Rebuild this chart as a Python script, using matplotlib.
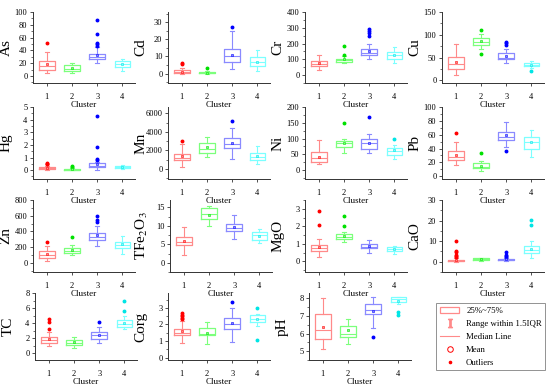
import matplotlib
matplotlib.use("Agg")
import matplotlib.pyplot as plt
from matplotlib.lines import Line2D
from matplotlib.patches import Rectangle
from matplotlib.ticker import AutoMinorLocator

plt.rcParams['font.family'] = ['Liberation Serif', 'DejaVu Serif']
plt.rcParams['mathtext.fontset'] = 'stix'

# === DANE ===
clusters = [1, 2, 3, 4]
names = ['As', 'Cd', 'Cr', 'Cu', 'Hg', 'Mn', 'Ni', 'Pb',
         'Zn', 'TFe$_2$O$_3$', 'MgO', 'CaO', 'TC', 'Corg', 'pH']

# per element: [cluster1, cluster2, cluster3, cluster4]
q1 = {
    'As': [10, 7, 26, 14], 'Cd': [0.4, 0.2, 6.5, 4.5], 'Cr': [55, 85, 125, 105], 'Cu': [24, 78, 46, 31],
    'Hg': [0.1, 0.02, 0.25, 0.18], 'Mn': [950, 1750, 2300, 1000], 'Ni': [27, 72, 68, 49], 'Pb': [23, 12, 52, 40],
    'Zn': [60, 130, 290, 190], 'TFe$_2$O$_3$': [4.8, 11.8, 8.5, 6.3], 'MgO': [0.6, 1.3, 0.75, 0.6],
    'CaO': [0.2, 0.8, 0.6, 4.0], 'TC': [1.4, 1.1, 1.9, 3.5], 'Corg': [1.35, 1.35, 1.7, 2.15], 'pH': [5.7, 5.8, 7.1, 7.8],
}
med = {
    'As': [15, 11, 29, 18], 'Cd': [1.0, 0.5, 10.5, 6.5], 'Cr': [72, 95, 140, 125], 'Cu': [35, 85, 50, 34],
    'Hg': [0.15, 0.05, 0.35, 0.25], 'Mn': [1200, 2100, 2700, 1300], 'Ni': [40, 85, 85, 60], 'Pb': [28, 14, 57, 50],
    'Zn': [100, 155, 330, 230], 'TFe$_2$O$_3$': [5.6, 13.2, 9.5, 7.5], 'MgO': [0.75, 1.4, 0.85, 0.7],
    'CaO': [0.5, 1.2, 1.0, 5.5], 'TC': [1.7, 1.4, 2.4, 3.9], 'Corg': [1.5, 1.45, 2.05, 2.3], 'pH': [6.2, 6.0, 7.35, 7.95],
}
q3 = {
    'As': [23, 17, 35, 24], 'Cd': [2.0, 1.0, 14.5, 9.5], 'Cr': [90, 105, 165, 145], 'Cu': [52, 92, 60, 38],
    'Hg': [0.25, 0.1, 0.55, 0.32], 'Mn': [1650, 2800, 3350, 1700], 'Ni': [57, 92, 98, 70], 'Pb': [36, 19, 64, 57],
    'Zn': [150, 195, 380, 270], 'TFe$_2$O$_3$': [6.9, 14.8, 10.6, 8.3], 'MgO': [0.95, 1.55, 1.0, 0.8],
    'CaO': [1.0, 1.6, 1.4, 7.5], 'TC': [2.1, 1.8, 2.8, 4.4], 'Corg': [1.75, 1.8, 2.4, 2.55], 'pH': [7.1, 6.45, 7.65, 8.05],
}
lo = {
    'As': [4, 5, 20, 8], 'Cd': [0.0, 0.0, 2.5, 1.5], 'Cr': [30, 75, 100, 75], 'Cu': [12, 68, 37, 26],
    'Hg': [0.02, 0.0, 0.05, 0.1], 'Mn': [200, 1300, 1100, 500], 'Ni': [18, 55, 55, 35], 'Pb': [16, 8, 42, 28],
    'Zn': [30, 100, 210, 120], 'TFe$_2$O$_3$': [2.1, 10.0, 6.5, 5.4], 'MgO': [0.25, 1.1, 0.5, 0.45],
    'CaO': [0.0, 0.5, 0.3, 2.0], 'TC': [1.0, 0.7, 1.3, 3.2], 'Corg': [0.9, 0.8, 0.95, 1.9], 'pH': [5.15, 5.4, 6.3, 7.7],
}
hi = {
    'As': [37, 21, 45, 26], 'Cd': [3.5, 1.5, 25, 14], 'Cr': [130, 118, 200, 175], 'Cu': [80, 102, 68, 42],
    'Hg': [0.35, 0.2, 0.65, 0.38], 'Mn': [2700, 3400, 4400, 2500], 'Ni': [95, 100, 115, 80], 'Pb': [50, 22, 79, 67],
    'Zn': [210, 230, 470, 340], 'TFe$_2$O$_3$': [9.8, 15.5, 13.0, 9.2], 'MgO': [1.3, 1.7, 1.2, 0.9],
    'CaO': [2.0, 2.0, 2.0, 10.0], 'TC': [2.8, 2.2, 3.5, 4.9], 'Corg': [2.2, 2.15, 3.0, 2.65], 'pH': [8.0, 6.8, 8.05, 8.1],
}
mean = {
    'As': [18, 12, 32, 19], 'Cd': [1.2, 0.6, 11.0, 7.0], 'Cr': [78, 100, 150, 125], 'Cu': [40, 86, 54, 34],
    'Hg': [0.18, 0.07, 0.45, 0.25], 'Mn': [1400, 2400, 2800, 1350], 'Ni': [42, 87, 87, 63], 'Pb': [30, 15, 59, 50],
    'Zn': [115, 170, 350, 240], 'TFe$_2$O$_3$': [5.8, 12.9, 9.6, 7.3], 'MgO': [0.8, 1.45, 0.88, 0.7],
    'CaO': [0.8, 1.2, 1.1, 6.0], 'TC': [1.9, 1.5, 2.4, 4.0], 'Corg': [1.6, 1.5, 2.1, 2.3], 'pH': [6.35, 6.2, 7.3, 7.85],
}
outliers = {
    'As': [[52], [], [47, 50, 52, 65, 88], []],
    'Cd': [[5.5, 6], [3.2], [27], []],
    'Cr': [[], [125, 185], [250, 265, 280, 295], []],
    'Cu': [[], [58, 110], [78, 82, 85], [21]],
    'Hg': [[0.45, 0.5, 0.55], [0.25, 0.3], [0.8, 0.9, 1.8, 4.25], []],
    'Mn': [[3000], [], [5200], []],
    'Ni': [[], [148], [168], [100]],
    'Pb': [[62], [33], [36], []],
    'Zn': [[265], [330], [520, 540, 600], []],
    'TFe$_2$O$_3$': [[], [], [], []],
    'MgO': [[2.05, 2.9], [2.0, 2.6], [], []],
    'CaO': [[2.5, 3, 3.5, 4.5, 5, 10], [], [2.5, 3, 3.5, 4.5], [18, 20.5]],
    'TC': [[3.2, 4.1, 4.5], [], [4.2], [5.6, 7.0]],
    'Corg': [[2.3, 2.4, 2.5, 2.6, 2.7], [], [3.35], [1.05, 3.0]],
    'pH': [[], [], [5.8], [7.05, 7.25]],
}
ylims = {
    'As': (-11, 100), 'Cd': (-5.5, 36), 'Cr': (-50, 400), 'Cu': (-6, 150),
    'Hg': (-0.7, 5), 'Mn': (-1100, 6700), 'Ni': (-28, 200), 'Pb': (-4, 100),
    'Zn': (-115, 800), 'TFe$_2$O$_3$': (-2.5, 17), 'MgO': (-0.6, 3.5), 'CaO': (-5, 30),
    'TC': (-0.9, 8), 'Corg': (-0.15, 3.9), 'pH': (4.5, 8.3),
}
yticks = {
    'As': [0, 20, 40, 60, 80, 100], 'Cd': [0, 10, 20, 30], 'Cr': [0, 100, 200, 300, 400], 'Cu': [0, 50, 100, 150],
    'Hg': [0, 1, 2, 3, 4, 5], 'Mn': [0, 2000, 4000, 6000], 'Ni': [0, 50, 100, 150, 200], 'Pb': [0, 20, 40, 60, 80, 100],
    'Zn': [0, 200, 400, 600, 800], 'TFe$_2$O$_3$': [0, 5, 10, 15], 'MgO': [0, 1, 2, 3], 'CaO': [0, 10, 20, 30],
    'TC': [0, 2, 4, 6, 8], 'Corg': [0, 1, 2, 3], 'pH': [5, 6, 7, 8],
}

dark = ['#FF0000', '#00E000', '#0000FF', '#00E5E5']
light = ['#FF8A8A', '#7CFF7C', '#8A8AFF', '#7CFFFF']

# === UKLAD (piksele) ===
W, H = 550, 389
col_left = [[33, 168, 305, 442], [33, 168, 305, 442], [33, 170, 305, 442], [35, 168, 309]]
row_tb = [(12, 83), (107, 179), (200, 272), (293, 360)]
AX_W = 102

fig = plt.figure(figsize=(W / 100, H / 100), dpi=100)

k = 0
for r, lefts in enumerate(col_left):
    top, bot = row_tb[r]
    for L in lefts:
        name = names[k]
        k += 1
        ax = fig.add_axes([L / W, 1 - bot / H, AX_W / W, (bot - top) / H])
        ax.patch.set_visible(False)   # zeby nie zaslanial napisow "Cluster" z wyzszego rzedu
        stats = []
        for i in range(4):
            stats.append(dict(q1=q1[name][i], med=med[name][i], q3=q3[name][i],
                              whislo=lo[name][i], whishi=hi[name][i],
                              mean=mean[name][i], fliers=outliers[name][i]))
        for i in range(4):
            ax.bxp([stats[i]], positions=[clusters[i]], widths=0.62, showmeans=True,
                   boxprops=dict(color=light[i], lw=0.9),
                   whiskerprops=dict(color=light[i], lw=0.8),
                   capprops=dict(color=light[i], lw=0.8), capwidths=0.14,
                   medianprops=dict(color=light[i], lw=0.8),
                   meanprops=dict(marker='s', markersize=1.8, markerfacecolor=light[i],
                                  markeredgecolor=dark[i], markeredgewidth=0.4),
                   flierprops=dict(marker='o', markersize=1.8, markerfacecolor=dark[i],
                                   markeredgecolor=dark[i], linestyle='none'))
        ax.set_xlim(0.45, 4.5)
        ax.set_ylim(*ylims[name])
        ax.set_yticks(yticks[name])
        ax.set_xticks(clusters)
        ax.set_xticklabels([str(c) for c in clusters])
        ax.yaxis.set_minor_locator(AutoMinorLocator(2))
        for s in ['top', 'right']:
            ax.spines[s].set_visible(False)
        for s in ['left', 'bottom']:
            ax.spines[s].set_linewidth(0.7)
            ax.spines[s].set_color('#333333')
        ax.tick_params(axis='both', which='major', direction='out', length=2.5, width=0.6,
                       labelsize=6, color='#333333', pad=1.5)
        ax.tick_params(axis='x', pad=5)
        ax.tick_params(axis='y', which='minor', direction='out', length=1.3, width=0.5, color='#333333')
        ax.set_xlabel('Cluster', fontsize=6.5, labelpad=0)
        ax.set_ylabel(name, fontsize=11)
        ax.yaxis.set_label_coords(-0.2, 0.5)

# === LEGENDA ===
handles = [
    Rectangle((0, 0), 1, 1, facecolor='none', edgecolor=light[0], lw=0.9),
    Line2D([], [], color=light[0], marker=r'$\mathrm{I}$', markersize=6, linestyle='none'),
    Line2D([], [], color=light[0], lw=0.8),
    Line2D([], [], color=dark[0], marker='o', markersize=4, markerfacecolor='none',
           markeredgewidth=0.7, linestyle='none'),
    Line2D([], [], color=dark[0], marker='o', markersize=1.6, linestyle='none'),
]
labels = ['25%~75%', 'Range within 1.5IQR', 'Median Line', 'Mean', 'Outliers']
leg = fig.legend(handles, labels, loc='upper left', bbox_to_anchor=(432 / W, 1 - 299 / H),
                 fontsize=6.3, frameon=True, fancybox=False, edgecolor='#777777',
                 handlelength=2.2, labelspacing=0.55, borderpad=0.4, handletextpad=0.8)
leg.get_frame().set_linewidth(0.7)

plt.savefig('out.png', dpi=100)
